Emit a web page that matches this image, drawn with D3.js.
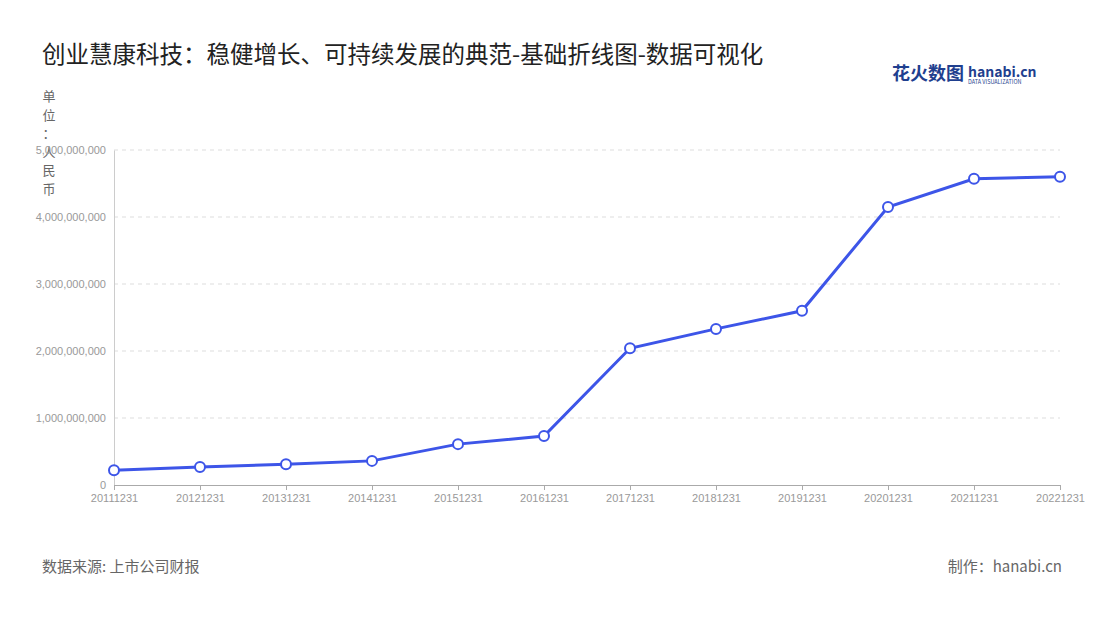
<!DOCTYPE html>
<html><head><meta charset="utf-8">
<script src="https://cdn.jsdelivr.net/npm/d3@7"></script>
<style>body{margin:0;background:#fff;font-family:"Noto Sans CJK SC","Noto Sans",sans-serif;}</style>
</head><body><svg id="c" width="1100" height="620"></svg>
<script>
const categories=["20111231","20121231","20131231","20141231","20151231","20161231","20171231","20181231","20191231","20201231","20211231","20221231"];
const values=[220000000,270000000,310000000,360000000,610000000,730000000,2040000000,2330000000,2600000000,4150000000,4570000000,4600000000];
const yTicks=[0,1000000000,2000000000,3000000000,4000000000,5000000000];
const svg=d3.select("#c");
const x=d3.scalePoint().domain(categories).range([114,1060]);
const y=d3.scaleLinear().domain([0,5000000000]).range([485,150]);
svg.append("text").attr("x",42).attr("y",63).attr("font-size",23.5).attr("font-weight",400).attr("fill","#222").text("创业慧康科技：稳健增长、可持续发展的典范-基础折线图-数据可视化");
svg.append("text").attr("x",892).attr("y",80).attr("font-size",18).attr("font-weight","bold").attr("fill","#1f3f8f").text("花火数图");
svg.append("text").attr("x",968).attr("y",77).attr("font-size",14).attr("font-weight","bold").attr("fill","#1f3f8f").text("hanabi.cn");
svg.append("text").attr("x",968).attr("y",84).attr("font-size",5.5).attr("fill","#1f3f8f").text("DATA VISUALIZATION");
"单位：人民币".split("").forEach((ch,i)=>svg.append("text").attr("x",49).attr("y",101+i*18.5).attr("font-size",13).attr("fill","#666").attr("text-anchor","middle").text(ch));
svg.append("g").selectAll("line").data(yTicks.slice(1)).join("line").attr("x1",114).attr("x2",1060).attr("y1",d=>y(d)).attr("y2",d=>y(d)).attr("stroke","#ddd").attr("stroke-dasharray","4,4");
const ya=svg.append("g").attr("transform","translate(114,0)").call(d3.axisLeft(y).tickValues(yTicks).tickFormat(d3.format(",")).tickSize(0).tickPadding(8));
ya.select(".domain").attr("stroke","#ccc");ya.selectAll("text").attr("fill","#999").attr("font-size",11);
const xa=svg.append("g").attr("transform","translate(0,485)").call(d3.axisBottom(x).tickSize(5).tickPadding(4));
xa.select(".domain").attr("stroke","#aaa");xa.selectAll("line").attr("stroke","#aaa");xa.selectAll("text").attr("fill","#999").attr("font-size",11);
const line=d3.line().x((d,i)=>x(categories[i])).y(d=>y(d));
svg.append("path").datum(values).attr("d",line).attr("fill","none").attr("stroke","#3d55e8").attr("stroke-width",3);
svg.append("g").selectAll("circle").data(values).join("circle").attr("cx",(d,i)=>x(categories[i])).attr("cy",d=>y(d)).attr("r",5).attr("fill","#fff").attr("stroke","#3d55e8").attr("stroke-width",2);
svg.append("text").attr("x",42).attr("y",572).attr("font-size",15).attr("fill","#666").text("数据来源: 上市公司财报");
svg.append("text").attr("x",1062).attr("y",572).attr("font-size",15).attr("fill","#666").attr("text-anchor","end").text("制作：hanabi.cn");
</script></body></html>
